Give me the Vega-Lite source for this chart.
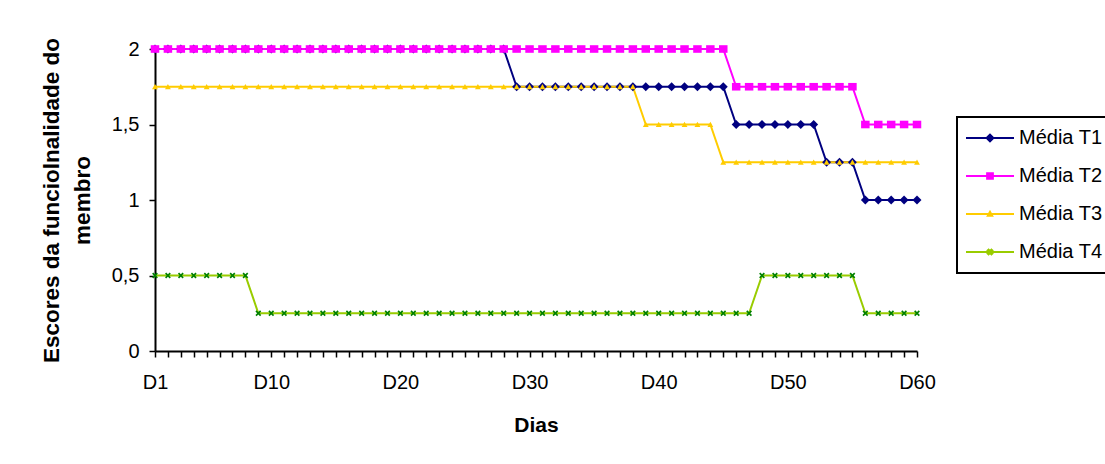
{
  "$schema": "https://vega.github.io/schema/vega-lite/v6.json",
  "width": 762,
  "height": 302,
  "autosize": {"type": "none"},
  "padding": {"left": 155, "top": 49, "right": 188, "bottom": 113},
  "background": "white",
  "config": {
    "view": {"stroke": null},
    "font": "Liberation Sans",
    "axis": {
      "domainColor": "black",
      "domainWidth": 2,
      "tickColor": "black",
      "tickWidth": 1.5,
      "tickSize": 6,
      "labelColor": "black",
      "titleColor": "black",
      "labelFont": "Liberation Sans",
      "titleFont": "Liberation Sans",
      "labelFontSize": 20,
      "titleFontSize": 21,
      "titleFontWeight": "bold",
      "grid": false
    }
  },
  "data": {
    "values": [
      {"dia": "D1", "Média T1": 2, "Média T2": 2, "Média T3": 1.75, "Média T4": 0.5},
      {"dia": "D2", "Média T1": 2, "Média T2": 2, "Média T3": 1.75, "Média T4": 0.5},
      {"dia": "D3", "Média T1": 2, "Média T2": 2, "Média T3": 1.75, "Média T4": 0.5},
      {"dia": "D4", "Média T1": 2, "Média T2": 2, "Média T3": 1.75, "Média T4": 0.5},
      {"dia": "D5", "Média T1": 2, "Média T2": 2, "Média T3": 1.75, "Média T4": 0.5},
      {"dia": "D6", "Média T1": 2, "Média T2": 2, "Média T3": 1.75, "Média T4": 0.5},
      {"dia": "D7", "Média T1": 2, "Média T2": 2, "Média T3": 1.75, "Média T4": 0.5},
      {"dia": "D8", "Média T1": 2, "Média T2": 2, "Média T3": 1.75, "Média T4": 0.5},
      {"dia": "D9", "Média T1": 2, "Média T2": 2, "Média T3": 1.75, "Média T4": 0.25},
      {"dia": "D10", "Média T1": 2, "Média T2": 2, "Média T3": 1.75, "Média T4": 0.25},
      {"dia": "D11", "Média T1": 2, "Média T2": 2, "Média T3": 1.75, "Média T4": 0.25},
      {"dia": "D12", "Média T1": 2, "Média T2": 2, "Média T3": 1.75, "Média T4": 0.25},
      {"dia": "D13", "Média T1": 2, "Média T2": 2, "Média T3": 1.75, "Média T4": 0.25},
      {"dia": "D14", "Média T1": 2, "Média T2": 2, "Média T3": 1.75, "Média T4": 0.25},
      {"dia": "D15", "Média T1": 2, "Média T2": 2, "Média T3": 1.75, "Média T4": 0.25},
      {"dia": "D16", "Média T1": 2, "Média T2": 2, "Média T3": 1.75, "Média T4": 0.25},
      {"dia": "D17", "Média T1": 2, "Média T2": 2, "Média T3": 1.75, "Média T4": 0.25},
      {"dia": "D18", "Média T1": 2, "Média T2": 2, "Média T3": 1.75, "Média T4": 0.25},
      {"dia": "D19", "Média T1": 2, "Média T2": 2, "Média T3": 1.75, "Média T4": 0.25},
      {"dia": "D20", "Média T1": 2, "Média T2": 2, "Média T3": 1.75, "Média T4": 0.25},
      {"dia": "D21", "Média T1": 2, "Média T2": 2, "Média T3": 1.75, "Média T4": 0.25},
      {"dia": "D22", "Média T1": 2, "Média T2": 2, "Média T3": 1.75, "Média T4": 0.25},
      {"dia": "D23", "Média T1": 2, "Média T2": 2, "Média T3": 1.75, "Média T4": 0.25},
      {"dia": "D24", "Média T1": 2, "Média T2": 2, "Média T3": 1.75, "Média T4": 0.25},
      {"dia": "D25", "Média T1": 2, "Média T2": 2, "Média T3": 1.75, "Média T4": 0.25},
      {"dia": "D26", "Média T1": 2, "Média T2": 2, "Média T3": 1.75, "Média T4": 0.25},
      {"dia": "D27", "Média T1": 2, "Média T2": 2, "Média T3": 1.75, "Média T4": 0.25},
      {"dia": "D28", "Média T1": 2, "Média T2": 2, "Média T3": 1.75, "Média T4": 0.25},
      {"dia": "D29", "Média T1": 1.75, "Média T2": 2, "Média T3": 1.75, "Média T4": 0.25},
      {"dia": "D30", "Média T1": 1.75, "Média T2": 2, "Média T3": 1.75, "Média T4": 0.25},
      {"dia": "D31", "Média T1": 1.75, "Média T2": 2, "Média T3": 1.75, "Média T4": 0.25},
      {"dia": "D32", "Média T1": 1.75, "Média T2": 2, "Média T3": 1.75, "Média T4": 0.25},
      {"dia": "D33", "Média T1": 1.75, "Média T2": 2, "Média T3": 1.75, "Média T4": 0.25},
      {"dia": "D34", "Média T1": 1.75, "Média T2": 2, "Média T3": 1.75, "Média T4": 0.25},
      {"dia": "D35", "Média T1": 1.75, "Média T2": 2, "Média T3": 1.75, "Média T4": 0.25},
      {"dia": "D36", "Média T1": 1.75, "Média T2": 2, "Média T3": 1.75, "Média T4": 0.25},
      {"dia": "D37", "Média T1": 1.75, "Média T2": 2, "Média T3": 1.75, "Média T4": 0.25},
      {"dia": "D38", "Média T1": 1.75, "Média T2": 2, "Média T3": 1.75, "Média T4": 0.25},
      {"dia": "D39", "Média T1": 1.75, "Média T2": 2, "Média T3": 1.5, "Média T4": 0.25},
      {"dia": "D40", "Média T1": 1.75, "Média T2": 2, "Média T3": 1.5, "Média T4": 0.25},
      {"dia": "D41", "Média T1": 1.75, "Média T2": 2, "Média T3": 1.5, "Média T4": 0.25},
      {"dia": "D42", "Média T1": 1.75, "Média T2": 2, "Média T3": 1.5, "Média T4": 0.25},
      {"dia": "D43", "Média T1": 1.75, "Média T2": 2, "Média T3": 1.5, "Média T4": 0.25},
      {"dia": "D44", "Média T1": 1.75, "Média T2": 2, "Média T3": 1.5, "Média T4": 0.25},
      {"dia": "D45", "Média T1": 1.75, "Média T2": 2, "Média T3": 1.25, "Média T4": 0.25},
      {"dia": "D46", "Média T1": 1.5, "Média T2": 1.75, "Média T3": 1.25, "Média T4": 0.25},
      {"dia": "D47", "Média T1": 1.5, "Média T2": 1.75, "Média T3": 1.25, "Média T4": 0.25},
      {"dia": "D48", "Média T1": 1.5, "Média T2": 1.75, "Média T3": 1.25, "Média T4": 0.5},
      {"dia": "D49", "Média T1": 1.5, "Média T2": 1.75, "Média T3": 1.25, "Média T4": 0.5},
      {"dia": "D50", "Média T1": 1.5, "Média T2": 1.75, "Média T3": 1.25, "Média T4": 0.5},
      {"dia": "D51", "Média T1": 1.5, "Média T2": 1.75, "Média T3": 1.25, "Média T4": 0.5},
      {"dia": "D52", "Média T1": 1.5, "Média T2": 1.75, "Média T3": 1.25, "Média T4": 0.5},
      {"dia": "D53", "Média T1": 1.25, "Média T2": 1.75, "Média T3": 1.25, "Média T4": 0.5},
      {"dia": "D54", "Média T1": 1.25, "Média T2": 1.75, "Média T3": 1.25, "Média T4": 0.5},
      {"dia": "D55", "Média T1": 1.25, "Média T2": 1.75, "Média T3": 1.25, "Média T4": 0.5},
      {"dia": "D56", "Média T1": 1, "Média T2": 1.5, "Média T3": 1.25, "Média T4": 0.25},
      {"dia": "D57", "Média T1": 1, "Média T2": 1.5, "Média T3": 1.25, "Média T4": 0.25},
      {"dia": "D58", "Média T1": 1, "Média T2": 1.5, "Média T3": 1.25, "Média T4": 0.25},
      {"dia": "D59", "Média T1": 1, "Média T2": 1.5, "Média T3": 1.25, "Média T4": 0.25},
      {"dia": "D60", "Média T1": 1, "Média T2": 1.5, "Média T3": 1.25, "Média T4": 0.25}
    ]
  },
  "transform": [
    {"fold": ["Média T1", "Média T2", "Média T3", "Média T4"], "as": ["serie", "valor"]}
  ],
  "encoding": {
    "x": {
      "field": "dia",
      "type": "ordinal",
      "sort": null,
      "scale": {"type": "point", "padding": 0},
      "axis": {
        "title": "Dias",
        "labelAngle": 0,
        "labelOverlap": false,
        "labelPadding": 15,
        "labelExpr": "indexof(['D1','D10','D20','D30','D40','D50','D60'], datum.value) >= 0 ? datum.value : ''",
        "titlePadding": 22
      }
    },
    "y": {
      "field": "valor",
      "type": "quantitative",
      "scale": {"domain": [0, 2], "nice": false, "zero": true},
      "axis": {
        "title": ["Escores da funciolnalidade do", "membro"],
        "values": [0, 0.5, 1, 1.5, 2],
        "labelExpr": "replace(toString(datum.value), '.', ',')",
        "labelPadding": 10,
        "titlePadding": 17,
        "titleFontSize": 22.5,
        "titleLineHeight": 31
      }
    }
  },
  "layer": [
    {
      "mark": {"type": "line", "strokeWidth": 2},
      "encoding": {
        "color": {
          "field": "serie",
          "type": "nominal",
          "scale": {
            "domain": ["Média T1", "Média T2", "Média T3", "Média T4"],
            "range": ["#000080", "#FF00FF", "#FFCC00", "#99CC00"]
          },
          "legend": {
            "orient": "none",
            "legendX": 802,
            "legendY": 68,
            "title": null,
            "labelFont": "Liberation Sans",
            "labelFontSize": 20,
            "labelColor": "black",
            "symbolSize": 2304,
            "symbolStrokeWidth": 2,
            "clipHeight": 26,
            "rowPadding": 12,
            "padding": 8,
            "labelOffset": 4,
            "symbolOffset": 0,
            "strokeColor": "black",
            "fillColor": "white",
            "encode": {
              "symbols": {
                "update": {
                  "size": {"value": 2304},
                  "shape": {"signal": "datum.value === 'Média T1' ? 'M-1,0H1M-0.14,0L0,-0.14L0.14,0L0,0.14Z' : datum.value === 'Média T2' ? 'M-1,0H1M-0.12,-0.11H0.12V0.11H-0.12Z' : datum.value === 'Média T3' ? 'M-1,0H1M-0.09,0.07L0,-0.09L0.09,0.07Z' : 'M-1,0H1M-0.1,-0.06L-0.04,0L-0.1,0.06L-0.06,0.1L0,0.04L0.06,0.1L0.1,0.06L0.04,0L0.1,-0.06L0.06,-0.1L0,-0.04L-0.06,-0.1Z'"},
                  "fill": {"signal": "datum.value === 'Média T1' ? '#000080' : datum.value === 'Média T2' ? '#FF00FF' : datum.value === 'Média T3' ? '#FFCC00' : '#008000'"},
                  "stroke": {"signal": "datum.value === 'Média T1' ? '#000080' : datum.value === 'Média T2' ? '#FF00FF' : datum.value === 'Média T3' ? '#FFCC00' : '#99CC00'"},
                  "strokeWidth": {"value": 2},
                  "opacity": {"value": 1}
                }
              },
              "legend": {
                "update": {"strokeWidth": {"value": 2}, "stroke": {"value": "black"}}
              }
            }
          }
        }
      }
    },
    {
      "mark": {"type": "point", "filled": true, "size": 80, "strokeWidth": 0, "opacity": 1},
      "encoding": {
        "fill": {
          "field": "serie",
          "type": "nominal",
          "scale": {"range": ["#000080", "#FF00FF", "#FFCC00", "#008000"]},
          "legend": null
        },
        "shape": {
          "field": "serie",
          "type": "nominal",
          "scale": {
            "range": [
              "M-1,0L0,-1L1,0L0,1Z",
              "M-0.95,-0.85H0.95V0.85H-0.95Z",
              "M-0.65,0.55L0,-0.6L0.65,0.55Z",
              "M-0.65,-0.39L-0.26,0L-0.65,0.39L-0.39,0.65L0,0.26L0.39,0.65L0.65,0.39L0.26,0L0.65,-0.39L0.39,-0.65L0,-0.26L-0.39,-0.65Z"
            ]
          },
          "legend": null
        }
      }
    }
  ]
}
